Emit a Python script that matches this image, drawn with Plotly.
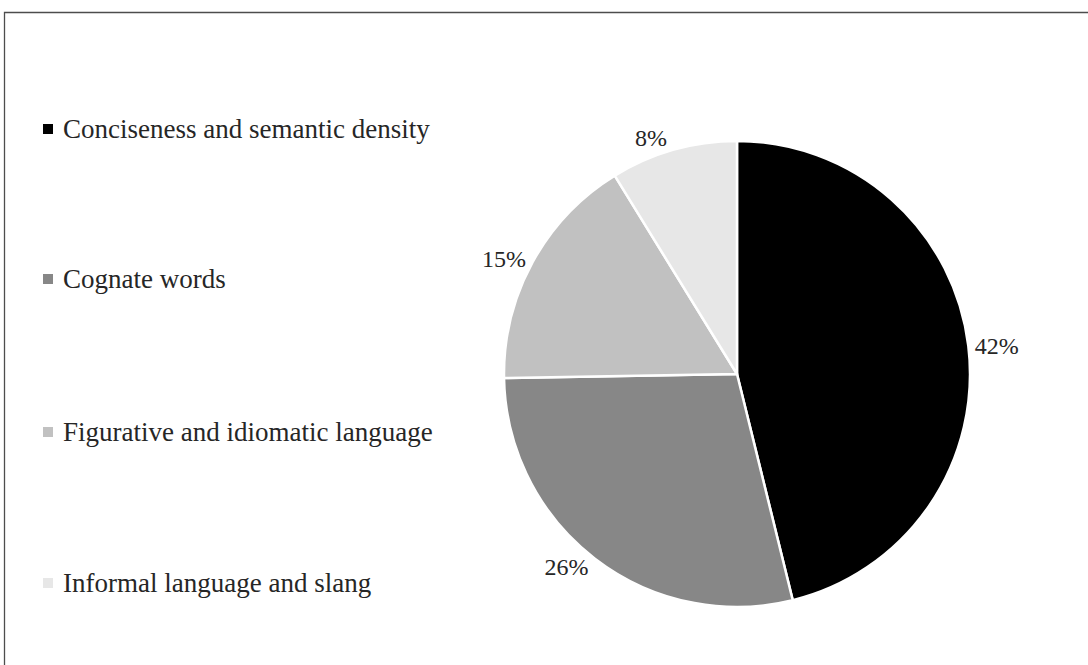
import plotly.graph_objects as go

categories = ["Conciseness and semantic density", "Cognate words",
              "Figurative and idiomatic language", "Informal language and slang"]
values = [42, 26, 15, 8]
colors = ["#000000", "#878787", "#c1c1c1", "#e7e7e7"]

W, H = 1088, 665
FONT = "Liberation Serif"

fig = go.Figure()
fig.add_trace(go.Pie(
    labels=categories, values=values, sort=False, direction="clockwise", rotation=0,
    marker=dict(colors=colors, line=dict(color="white", width=2.5)),
    texttemplate="%{value}%", textposition="outside",
    textfont=dict(family=FONT, size=24, color="#262626"),
    showlegend=False, hoverinfo="label+value",
    domain=dict(x=[(737 - 260) / W, (737 + 260) / W], y=[1 - 607 / H, 1 - 141 / H]),
))

# legend built from categories/colors
legend_y = [129, 279, 432, 583]
for cat, col, yy in zip(categories, colors, legend_y):
    fig.add_shape(type="rect", xref="paper", yref="paper",
                  x0=43 / W, x1=53 / W, y0=1 - (yy + 5) / H, y1=1 - (yy - 5) / H,
                  fillcolor=col, line=dict(width=0))
    fig.add_annotation(x=61 / W, y=1 - yy / H, xref="paper", yref="paper",
                       text=cat, showarrow=False, xanchor="left", yanchor="middle",
                       font=dict(family=FONT, size=27, color="#262626"))

# frame
fig.add_shape(type="rect", xref="paper", yref="paper",
              x0=4.5 / W, x1=1.2, y0=-0.2, y1=1 - 12.5 / H,
              line=dict(color="#4d4d4d", width=1.3), fillcolor="rgba(0,0,0,0)")

fig.update_layout(width=W, height=H, margin=dict(l=0, r=0, t=0, b=0),
                  paper_bgcolor="white", plot_bgcolor="white")
fig.write_html("out.html", config={"displayModeBar": False},
               post_script="document.body.style.margin='0';")
